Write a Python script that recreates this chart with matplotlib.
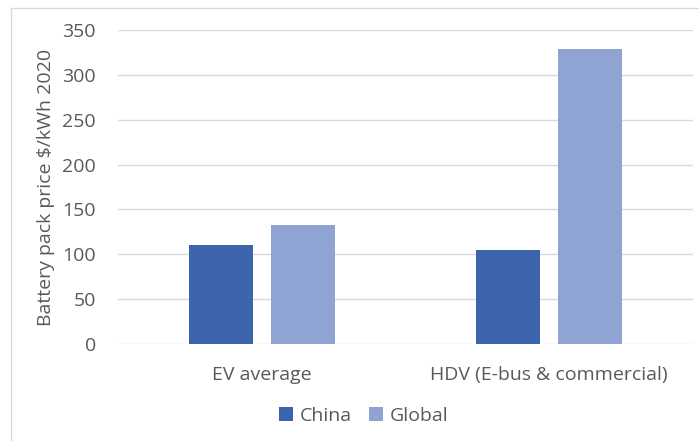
import numpy as np
import matplotlib.pyplot as plt
from matplotlib.patches import Rectangle

categories = ['EV average', 'HDV (E-bus & commercial)']
china = [110, 105]
global_vals = [133, 329]
yticks = [0, 50, 100, 150, 200, 250, 300, 350]

txt = '#595959'
plt.rcParams['font.family'] = ['Open Sans', 'DejaVu Sans']
fs = 14

fig = plt.figure(figsize=(6.99, 4.41), dpi=100)
ax = fig.add_axes([0.1688, 0.22, 0.8226, 0.712])

x = np.arange(len(categories))
w = 0.223
off = (w + 0.063) / 2
ax.bar(x - off, china, w, color='#3C64AC', label='China', zorder=3)
ax.bar(x + off, global_vals, w, color='#90A4D4', label='Global', zorder=3)

ax.set_xlim(-0.5, 1.5)
ax.set_ylim(0, 350)
ax.set_yticks(yticks)
ax.set_xticks(x)
ax.set_xticklabels(categories)
ax.yaxis.grid(True, color='#D9D9D9', linewidth=1, zorder=0)
for s in ['top', 'right', 'left', 'bottom']:
    ax.spines[s].set_visible(False)
ax.tick_params(axis='both', length=0, colors=txt, labelsize=fs)
ax.tick_params(axis='x', pad=16)
ax.tick_params(axis='y', pad=16)
ax.set_ylabel('Battery pack price $/kWh 2020', color=txt, fontsize=fs, labelpad=5)

leg = fig.legend(loc='center', bbox_to_anchor=(0.52, 0.057), ncol=2, frameon=False,
                 fontsize=fs, handlelength=0.7, handleheight=0.7,
                 handletextpad=0.35, columnspacing=0.9)
for t in leg.get_texts():
    t.set_color(txt)

fig.patches.append(Rectangle((11 / 699, -0.01), 1, 1 - 8 / 441 + 0.01, transform=fig.transFigure,
                             fill=False, edgecolor='#D9D9D9', linewidth=1))

fig.savefig('out.png', dpi=100)
